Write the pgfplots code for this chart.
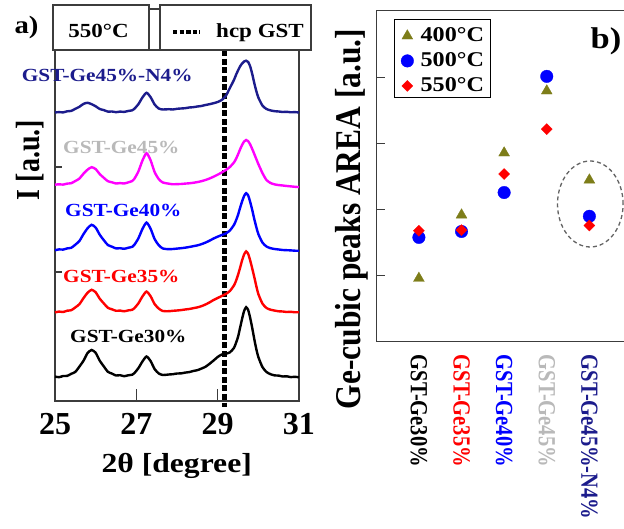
\documentclass[border=0pt]{standalone}
\usepackage{fontspec}
\setmainfont{Liberation Serif}
\usepackage{graphicx}
\usepackage{pgfplots}
\usepackage{pgfplotstable}
\pgfplotsset{compat=1.18}
\definecolor{navyc}{RGB}{28,28,140}
\definecolor{magc}{RGB}{255,0,255}
\definecolor{bluec}{RGB}{0,0,255}
\definecolor{redc}{RGB}{255,0,0}
\definecolor{grayl}{RGB}{185,185,185}
\definecolor{olivec}{RGB}{125,125,25}
\definecolor{axc}{RGB}{60,60,60}
\newcommand{\fs}[1]{\fontsize{#1}{#1}\selectfont}
\newcommand{\sx}[1]{\scalebox{1.15}[1]{#1}}
\newcommand{\sy}[1]{\scalebox{1}[1.2]{#1}}

\pgfplotstableread{
x k r b m n
25.0 24.4 88.6 150.7 216.3 288.5
25.1 23.8 89.4 151.6 216.7 288.9
25.2 25.0 89.0 151.4 216.4 288.6
25.3 25.1 90.3 152.6 217.4 289.7
25.4 27.2 90.8 153.2 217.8 290.1
25.5 29.1 93.6 156.3 220.0 292.2
25.6 34.4 96.8 160.0 222.4 294.2
25.7 40.2 102.8 166.8 227.3 297.1
25.8 47.9 108.2 172.7 231.3 298.2
25.9 51.0 111.2 176.2 233.8 296.8
26.0 48.2 108.7 173.4 231.9 294.7
26.1 40.3 102.3 166.3 226.9 292.0
26.2 34.6 97.6 160.8 223.2 290.9
26.3 29.2 93.2 156.0 219.8 289.4
26.4 27.4 91.7 154.3 218.7 289.5
26.5 25.5 90.2 152.6 217.5 288.8
26.6 25.8 90.4 152.8 217.9 289.4
26.7 24.8 89.7 152.2 217.5 289.1
26.8 25.7 90.6 153.2 218.6 290.0
26.9 26.3 91.2 154.2 220.0 290.7
26.95 27.8 92.7 156.1 222.1 292.1
27.05 32.8 97.6 162.6 229.5 296.8
27.15 39.5 104.5 172.0 240.4 303.5
27.25 44.5 109.4 178.4 247.8 308.2
27.35 40.0 104.8 172.3 240.8 303.9
27.45 31.9 96.9 161.9 228.9 296.5
27.55 27.6 92.5 155.9 222.0 292.5
27.65 26.0 90.0 152.5 218.5 291.5
27.8 26.5 89.8 151.8 217.3 291.8
27.9 26.8 90.2 152.0 216.7 291.5
28.0 27.5 90.5 152.4 216.9 292.2
28.1 27.6 90.9 152.8 217.0 292.5
28.2 28.4 91.5 153.3 217.4 292.8
28.3 28.9 92.0 154.0 217.7 293.5
28.4 30.0 92.8 154.8 218.2 293.8
28.5 30.8 93.6 155.6 218.9 294.5
28.6 32.4 94.8 156.8 219.8 295.0
28.7 34.2 96.5 158.4 221.0 296.0
28.8 37.2 98.6 160.3 222.5 296.8
28.9 40.5 101.0 162.5 224.3 297.8
29.0 44.0 103.0 164.3 226.3 299.0
29.1 46.5 105.0 166.0 228.5 301.0
29.2 47.3 107.0 167.5 231.0 305.0
29.3 48.6 110.0 170.5 234.0 313.0
29.4 53.0 115.5 176.0 238.5 321.0
29.45 58.0 120.0 180.5 242.0 326.0
29.5 64.0 126.0 186.0 246.5 330.5
29.55 73.0 133.0 193.0 251.5 334.5
29.6 82.0 140.5 199.5 256.0 337.5
29.65 90.0 146.5 205.0 259.5 339.5
29.7 93.8 149.6 207.8 261.0 340.3
29.75 91.0 147.0 205.5 259.8 339.0
29.8 83.0 140.5 199.0 256.5 334.5
29.85 73.0 132.5 191.0 252.0 327.0
29.9 62.0 124.0 182.0 247.0 318.0
29.95 52.0 115.0 174.0 242.0 310.0
30.0 44.0 107.0 167.0 237.0 303.5
30.1 34.0 97.5 158.5 228.0 295.5
30.2 29.0 93.0 154.5 221.0 292.0
30.3 26.8 91.3 152.8 218.0 290.6
30.4 25.6 90.4 152.0 216.6 289.8
30.5 25.4 89.7 151.5 215.9 289.5
30.6 24.5 89.5 151.0 215.5 289.0
30.7 24.7 89.0 150.8 215.0 289.2
30.8 23.9 89.2 150.6 214.6 288.7
30.9 24.2 88.7 150.3 214.2 288.9
31.0 23.7 88.8 150.2 213.9 288.5
}\xrd

\pgfplotstableread{
x y
0 0.96
1 1.92
2 2.86
3 3.80
4 2.45
}\sfour
\pgfplotstableread{
x y
0 1.58
1 1.67
2 2.26
3 4.02
4 1.90
}\sfive
\pgfplotstableread{
x y
0 1.68
1 1.69
2 2.54
3 3.22
4 1.76
}\sfivefifty

\begin{document}
\begin{tikzpicture}[x=1pt,y=1pt]
\useasboundingbox (0,0) rectangle (624,529);

% ---------- panel a ----------
\begin{axis}[
  at={(55pt,128pt)}, anchor=south west,
  scale only axis, width=244pt, height=351pt,
  xmin=25, xmax=31, ymin=0, ymax=351,
  xtick={25,27,29,31}, xticklabels={25,27,29,31},
  xtick pos=bottom, ytick=\empty,
  tick align=inside, major tick length=12pt,
  axis line style={line width=1.2pt, color=axc},
  tick style={line width=1.2pt, color=axc},
  /pgf/number format/assume math mode=true,
  xticklabel style={font=\fs{32}\bfseries, inner sep=0pt, anchor=north},
  xticklabel shift=12pt,
  clip=false,
]
\draw[line width=1.2pt, color=axc] (axis cs:25,24) -- ++(7pt,0pt);
\draw[line width=1.2pt, color=axc] (axis cs:25,129) -- ++(7pt,0pt);
\draw[line width=1.2pt, color=axc] (axis cs:25,234) -- ++(7pt,0pt);
\draw[line width=5pt, dash pattern=on 6pt off 2.6pt] (axis cs:29.18,351) -- (axis cs:29.18,-6);
\addplot[smooth, tension=0.4, line width=2.4pt, color=black] table[x=x, y=k] {\xrd};
\addplot[smooth, tension=0.4, line width=2.4pt, color=redc] table[x=x, y=r] {\xrd};
\addplot[smooth, tension=0.4, line width=2.4pt, color=bluec] table[x=x, y=b] {\xrd};
\addplot[smooth, tension=0.4, line width=2.4pt, color=magc] table[x=x, y=m] {\xrd};
\addplot[smooth, tension=0.4, line width=2.4pt, color=navyc] table[x=x, y=n] {\xrd};
\end{axis}

% top boxes of panel a
\draw[line width=1.2pt, color=axc] (53,479) rectangle (149,524);
\draw[line width=1.2pt, color=axc] (160,479) rectangle (311,524);
\draw[line width=1.2pt, color=axc] (149,520) -- (160,520);
\node[anchor=base, inner sep=0pt] at (98.5,491.3) {\fs{20}\bfseries\sx{550°C}};
\draw[line width=4pt, dash pattern=on 4.3pt off 2.3pt] (173,497.3) -- (200,497.3);
\node[anchor=base, inner sep=0pt] at (260,491.3) {\fs{20}\bfseries\sx{hcp GST}};
\node[anchor=base, inner sep=0pt] at (26.5,495.5) {\fs{25}\bfseries\sx{a)}};

% curve labels
\node[anchor=west, inner sep=0pt, text=navyc] at (21.7,454) {\fs{18.5}\bfseries\sx{GST-Ge45\%-N4\%}};
\node[anchor=west, inner sep=0pt, text=grayl] at (63,382) {\fs{18.5}\bfseries\sx{GST-Ge45\%}};
\node[anchor=west, inner sep=0pt, text=bluec] at (65,319) {\fs{18.5}\bfseries\sx{GST-Ge40\%}};
\node[anchor=west, inner sep=0pt, text=redc] at (63,253) {\fs{18.5}\bfseries\sx{GST-Ge35\%}};
\node[anchor=west, inner sep=0pt, text=black] at (70,193) {\fs{18.5}\bfseries\sx{GST-Ge30\%}};

% axis labels of panel a
\node[anchor=base, inner sep=0pt] at (176.7,56.3) {\fs{27.5}\bfseries\sx{2θ [degree]}};
\node[rotate=90, inner sep=0pt] at (30,369) {\sy{\fs{28}\bfseries I [a.u.]}};

% ---------- panel b ----------
\begin{axis}[
  at={(376.7pt,187.3pt)}, anchor=south west,
  scale only axis, width=251.3pt, height=331pt,
  xmin=-0.99, xmax=4.906, ymin=0, ymax=5.015,
  xtick={0,1,2,3,4},
  xticklabels={{\sy{\textcolor{black}{GST-Ge30\%}}},{\sy{\textcolor{redc}{GST-Ge35\%}}},{\sy{\textcolor{bluec}{GST-Ge40\%}}},{\sy{\textcolor{grayl}{GST-Ge45\%}}},{\sy{\textcolor{navyc}{GST-Ge45\%-N4\%}}}},
  xtick style={draw=none},
  ytick={1,2,3,4}, yticklabels={}, ytick pos=left,
  tick align=inside, major tick length=8pt,
  axis line style={line width=1.2pt, color=axc},
  tick style={line width=1.2pt, color=axc},
  xticklabel style={font=\fs{20.5}\bfseries, rotate=-90, anchor=west, inner sep=0pt},
  xticklabel shift=13pt,
  legend cell align=left,
  legend style={at={(0.0688,0.975)}, anchor=north west, draw=black, line width=1.3pt,
    fill=white, font=\fs{21}\bfseries, inner xsep=6.4pt, inner ysep=1.3pt,
    column sep=7pt, row sep=0pt,
    nodes={inner sep=0pt, text height=21pt, text depth=4pt}},
  legend image code/.code={\draw[mark repeat=2,mark phase=2,#1] plot coordinates {(0pt,-2.5pt)(9pt,-2.5pt)(18pt,-2.5pt)};},
  clip=false,
]
\addplot[only marks, mark=triangle*, mark size=6.3pt, color=olivec, mark options={line width=0.3pt}] table[x=x,y=y] {\sfour};
\addlegendentry{\sx{400°C}}
\addplot[only marks, mark=*, mark size=6.3pt, color=bluec, mark options={line width=0.3pt}] table[x=x,y=y] {\sfive};
\addlegendentry{\sx{500°C}}
\addplot[only marks, mark=square*, mark size=3.9pt, color=redc, mark options={rotate=45, line width=0.3pt}] table[x=x,y=y] {\sfivefifty};
\addlegendentry{\sx{550°C}}
\end{axis}

\draw[line width=1.3pt, color=axc!80, dash pattern=on 4pt off 3pt] (590.3,325) ellipse [x radius=32.8, y radius=43];
\node[inner sep=0pt] at (606,488) {\fs{30}\bfseries\sx{b)}};
\node[rotate=90, inner sep=0pt] at (352,310) {\scalebox{1}[1.15]{\fs{31.5}\bfseries Ge-cubic peaks AREA [a.u.]}};

\end{tikzpicture}
\end{document}
